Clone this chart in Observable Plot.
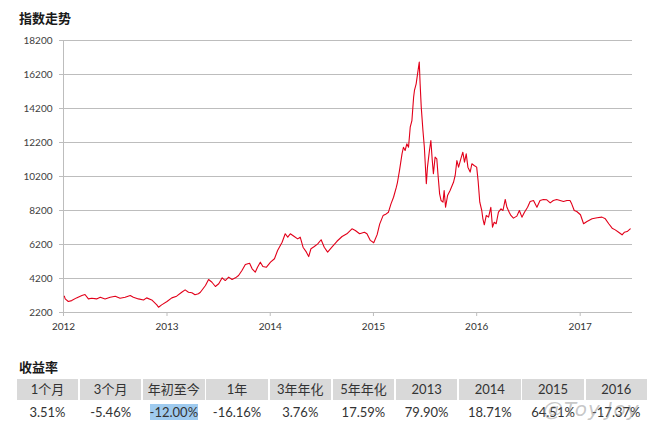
<!DOCTYPE html>
<html><head><meta charset="utf-8">
<script src="https://cdn.jsdelivr.net/npm/d3@7"></script>
<script src="https://cdn.jsdelivr.net/npm/@observablehq/plot@0.6"></script>
<style>
body{margin:0;background:#fff;}
#wrap{position:relative;width:660px;height:423px;overflow:hidden;font-family:Lato,"Noto Sans CJK SC",sans-serif;}
#title{position:absolute;left:19px;top:10px;font:bold 13px/16px "Noto Sans CJK SC",sans-serif;color:#1a1a1a}
#chart{position:absolute;left:0;top:0}
#rtitle{position:absolute;left:19px;top:359px;font:bold 13px/16px "Noto Sans CJK SC",sans-serif;color:#1a1a1a}
.hd{position:absolute;top:379px;height:21px;background:#d9d9d9;color:#333;font:13px/21px Lato,"Noto Sans CJK SC",sans-serif;text-align:center}
.vl{position:absolute;top:402px;height:20px;color:#333;font:13px/20px Lato,sans-serif;text-align:center}
.sel{background:#9fcbef}
#wm{position:absolute;left:543px;top:397px;font:italic 20px/24px "DejaVu Sans",sans-serif;color:rgba(130,130,130,0.45);letter-spacing:1px}
</style></head>
<body><div id="wrap"><div id="title">指数走势</div><div id="chart"></div><div id="rtitle">收益率</div></div>
<script>
const dates = ["2012-01-04","2012-01-07","2012-01-18","2012-01-30","2012-02-16","2012-03-06","2012-03-17","2012-03-29","2012-04-10","2012-04-27","2012-05-10","2012-05-27","2012-06-14","2012-07-02","2012-07-19","2012-08-06","2012-08-24","2012-09-04","2012-09-22","2012-10-10","2012-10-21","2012-11-08","2012-11-26","2012-12-02","2012-12-13","2013-01-01","2013-01-18","2013-02-04","2013-02-22","2013-03-06","2013-03-18","2013-03-30","2013-04-10","2013-04-22","2013-04-29","2013-05-17","2013-05-28","2013-06-09","2013-06-21","2013-07-03","2013-07-15","2013-07-26","2013-08-07","2013-08-19","2013-08-31","2013-09-11","2013-09-23","2013-10-05","2013-10-20","2013-10-29","2013-11-09","2013-11-17","2013-11-27","2013-12-06","2013-12-18","2014-01-02","2014-01-16","2014-01-27","2014-02-12","2014-02-23","2014-03-04","2014-03-13","2014-03-27","2014-04-08","2014-04-17","2014-04-27","2014-05-09","2014-05-17","2014-05-25","2014-06-06","2014-06-18","2014-06-30","2014-07-11","2014-07-23","2014-08-07","2014-08-25","2014-09-12","2014-09-29","2014-10-17","2014-10-29","2014-11-13","2014-11-30","2014-12-09","2014-12-21","2015-01-02","2015-01-14","2015-01-23","2015-02-04","2015-02-15","2015-02-23","2015-03-04","2015-03-13","2015-03-23","2015-03-27","2015-04-03","2015-04-12","2015-04-17","2015-04-23","2015-04-29","2015-05-05","2015-05-11","2015-05-17","2015-05-23","2015-05-26","2015-06-01","2015-06-06","2015-06-12","2015-06-15","2015-06-19","2015-06-25","2015-06-30","2015-07-07","2015-07-11","2015-07-18","2015-07-23","2015-07-28","2015-08-01","2015-08-07","2015-08-13","2015-08-17","2015-08-23","2015-08-28","2015-09-04","2015-09-08","2015-09-13","2015-09-20","2015-09-29","2015-10-11","2015-10-17","2015-10-23","2015-10-29","2015-11-06","2015-11-13","2015-11-19","2015-11-25","2015-12-01","2015-12-09","2015-12-15","2015-12-23","2016-01-01","2016-01-06","2016-01-12","2016-01-19","2016-01-23","2016-01-28","2016-02-04","2016-02-12","2016-02-20","2016-02-26","2016-03-03","2016-03-10","2016-03-18","2016-03-27","2016-04-03","2016-04-11","2016-04-17","2016-04-25","2016-05-01","2016-05-10","2016-05-22","2016-05-31","2016-06-09","2016-06-18","2016-06-29","2016-07-08","2016-07-20","2016-08-01","2016-08-12","2016-08-24","2016-09-05","2016-09-17","2016-09-28","2016-10-10","2016-10-22","2016-11-03","2016-11-15","2016-11-26","2016-12-02","2016-12-11","2016-12-20","2017-01-02","2017-01-13","2017-01-25","2017-02-12","2017-03-02","2017-03-19","2017-03-31","2017-04-12","2017-04-24","2017-05-05","2017-05-17","2017-05-29","2017-06-06","2017-06-16","2017-06-27"];
const values = [3160,3000,2850,2900,3060,3200,3260,3000,3040,3000,3100,3000,3100,3160,3040,3100,3200,3100,3000,2940,3060,2940,2650,2510,2650,2850,3060,3160,3390,3530,3390,3360,3240,3300,3390,3790,4140,3980,3730,3890,4240,4080,4280,4140,4240,4380,4670,5020,5100,4770,4570,4860,5160,4910,4860,5160,5360,5850,6330,6830,6630,6830,6670,6530,6630,6040,5750,5490,5950,6080,6240,6480,6040,5750,6040,6390,6670,6830,7120,7020,6830,6920,6830,6440,6300,6780,7400,7900,8000,8100,8590,8980,9570,9860,10550,11530,11920,11730,12120,11920,13100,13490,14860,15260,15650,16240,16930,15650,14280,12910,11920,9770,10750,11730,12320,11140,10360,11340,11240,10360,9180,8790,8690,9380,8390,9080,9380,9860,10260,11140,10750,11240,11630,11040,11530,10750,10460,10950,10850,10750,9960,8690,8200,7710,7360,7910,7810,8390,7220,7510,7420,8100,8300,8200,8850,8390,8100,7910,7750,7870,8200,7810,8100,8390,8730,8790,8390,8790,8850,8830,8650,8790,8850,8790,8730,8790,8790,8590,8200,8140,7950,7420,7550,7710,7770,7810,7710,7420,7160,7060,6920,6770,6920,6960,7120];
const yTicks = [2200,4200,6200,8200,10200,12200,14200,16200,18200];
const yearTicks = ["2012","2013","2014","2015","2016","2017"];
const headers = ["1个月","3个月","年初至今","1年","3年年化","5年年化","2013","2014","2015","2016"];
const returns = ["3.51%","-5.46%","-12.00%","-16.16%","3.76%","17.59%","79.90%","18.71%","64.51%","-17.37%"];

const data = dates.map((d, i) => ({date: new Date(d), value: values[i]}));
const x0 = new Date("2012-01-01");
const chart = Plot.plot({
  width: 660, height: 340,
  marginTop: 40, marginBottom: 28, marginLeft: 63, marginRight: 28,
  style: {fontFamily: "Lato, sans-serif", fontSize: "10px", background: "transparent", color: "#404040"},
  x: {type: "utc", domain: [x0, new Date("2017-07-05")], label: null},
  y: {domain: [2200, 18200], label: null},
  marks: [
    Plot.gridY(yTicks, {stroke: "#bdbdbd", strokeOpacity: 1, strokeWidth: 1}),
    Plot.ruleX([x0], {stroke: "#bdbdbd", strokeWidth: 1}),
    Plot.axisY(yTicks, {tickSize: 4, tickPadding: 7, stroke: "#bdbdbd", fill: "#404040", tickFormat: d => String(d), label: null}),
    Plot.axisX(yearTicks.map(y => new Date(y + "-01-01")), {tickSize: 4, tickPadding: 6, stroke: "#bdbdbd", fill: "#333", tickFormat: d => String(d.getUTCFullYear()), label: null}),
    Plot.lineY(data, {x: "date", y: "value", stroke: "#e2001a", strokeWidth: 1.1})
  ]
});
document.getElementById("chart").appendChild(chart);

const wrap = document.getElementById("wrap");
const left0 = 16.7, pitch = 63.2, cw = 61.5;
headers.forEach((h, i) => {
  const d = document.createElement("div");
  d.className = "hd";
  d.style.left = (left0 + i * pitch) + "px";
  d.style.width = cw + "px";
  d.textContent = h;
  wrap.appendChild(d);
  const v = document.createElement("div");
  v.className = "vl";
  v.style.left = (left0 + i * pitch) + "px";
  v.style.width = cw + "px";
  const s = document.createElement("span");
  s.textContent = returns[i];
  if (i === 2) s.className = "sel";
  v.appendChild(s);
  wrap.appendChild(v);
});
const wm = document.createElement("div");
wm.id = "wm";
wm.textContent = "@Toy.Joy";
wrap.appendChild(wm);
</script></body></html>
